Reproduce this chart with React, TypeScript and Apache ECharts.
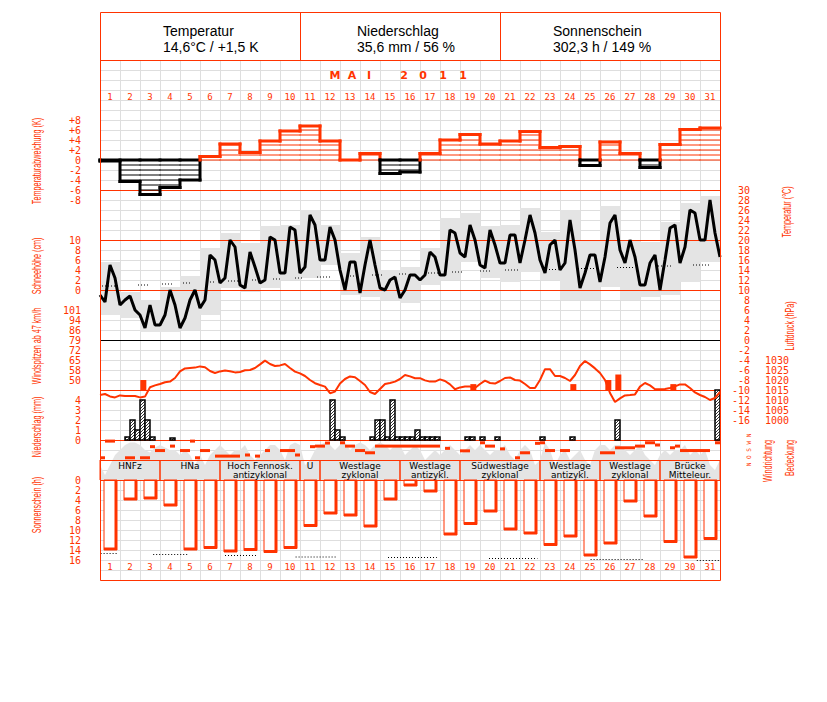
import React, { useEffect, useRef } from 'react';
import * as echarts from 'echarts';

const RED = '#ff3300';
const GRIDC = '#dedede';
const FILL = '#e4e4e4';
const MONO = '"DejaVu Sans Mono", monospace';
const SANS = '"Liberation Sans", Arial, sans-serif';

const dayLabels = ['1','2','3','4','5','6','7','8','9','10','11','12','13','14','15','16','17','18','19','20','21','22','23','24','25','26','27','28','29','30','31'];
const headerTitles = ['Temperatur', 'Niederschlag', 'Sonnenschein'];
const headerValues = ['14,6°C / +1,5 K', '35,6 mm / 56 %', '302,3 h / 149 %'];
const monthTitle = ['M', 'A', 'I', '2', '0', '1', '1'];
const windTickLabels = ['50', '58', '65', '72', '79', '86', '94', '101'];

// daily temperature deviation (K)
const tempDeviation = [-0.2, -4.3, -6.9, -5.5, -4.0, 0.7, 3.2, 1.5, 3.8, 5.8, 6.8, 3.8, 0.0, 1.3, -2.7, -2.4, 1.3, 4.0, 5.1, 3.2, 3.8, 5.7, 2.5, 2.7, -1.1, 3.6, 1.3, -1.5, 3.1, 6.1, 6.4];

// daily extremes (°C)
const tempMax = [15.6, 9.6, 8.0, 10.6, 12.8, 18.4, 21.4, 19.4, 22.8, 23.0, 26.0, 23.0, 17.4, 20.6, 14.0, 14.6, 18.4, 24.4, 25.4, 22.8, 23.0, 26.4, 21.6, 26.0, 20.0, 26.8, 20.0, 19.6, 23.6, 27.4, 28.8];
const tempMin = [5.0, 4.4, 1.6, 1.6, 2.0, 5.0, 10.4, 9.6, 10.4, 12.0, 12.4, 15.0, 9.0, 8.6, 8.0, 7.4, 11.0, 12.0, 15.6, 12.4, 11.6, 13.6, 12.0, 8.0, 8.0, 10.6, 8.0, 8.6, 9.0, 11.6, 15.6];

// 6-hourly temperature (°C), 0h/6h/12h/18h per day + end
const temp6h = [
  9.0, 7.6, 15.0, 12.4,  7.0, 8.0, 8.8, 6.0,  5.0, 2.4, 7.0, 3.0,  3.0, 5.0, 10.0, 7.0,
  2.4, 4.4, 8.0, 10.0,  6.4, 8.0, 17.0, 16.0,  11.4, 12.4, 20.0, 18.6,  11.0, 10.4, 17.6, 14.6,
  11.4, 12.0, 20.6, 20.0,  13.4, 13.4, 22.6, 22.0,  13.4, 14.6, 25.0, 23.0,  16.0, 16.0, 22.6, 20.0,
  14.0, 10.0, 15.6, 15.6,  9.4, 15.0, 20.0, 15.0,  10.4, 10.0, 12.0, 12.6,  8.4, 10.0, 13.0, 13.0,
  12.0, 13.0, 17.6, 16.6,  13.0, 13.0, 22.0, 21.4,  17.4, 16.6, 23.0, 20.0,  15.0, 14.4, 22.0, 19.0,
  15.4, 15.4, 21.0, 21.0,  15.4, 20.0, 25.0, 21.4,  16.0, 13.4, 19.0, 20.0,  14.0, 15.4, 24.0, 18.0,
  10.4, 13.4, 17.0, 17.0,  11.6, 16.6, 23.4, 25.0,  18.0, 15.4, 20.0, 16.6,  11.0, 11.0, 15.4, 17.0,
  10.0, 16.0, 22.4, 23.0,  15.4, 18.6, 26.0, 25.4,  20.0, 20.0, 28.0, 21.4,  16.6,
];

// normal temperature segments (day units, °C)
const tnStart = [0.1, 1.9, 3.1, 4.15, 5.35, 6.4, 7.6, 8.65, 9.75, 10.85, 12.35, 13.6, 14.95, 16.4, 17.6, 19.0, 20.25, 22.15, 23.9, 25.85, 27.9, 29.65];
const tnEnd = [0.9, 2.5, 3.6, 4.5, 5.75, 6.9, 7.85, 9.1, 10.15, 11.5, 12.85, 14.15, 15.4, 16.9, 18.15, 19.5, 21.0, 22.9, 24.75, 26.65, 28.6, 30.5];
const tnValue = [10.8, 11.0, 11.2, 11.4, 11.6, 11.8, 12.0, 12.2, 12.4, 12.6, 12.8, 13.0, 13.2, 13.4, 13.6, 13.8, 14.0, 14.1, 14.3, 14.5, 14.8, 15.0];

// wind gusts >= 47 km/h
const gustDay = [3, 19, 24, 26, 26, 29];
const gustHour = [4, 16, 16, 10, 22, 16];
const gustValue = [50, 47, 47, 50, 54, 47];

// 6-hourly air pressure (hPa) + end
const pressure6h = [
  1012.5, 1013.0, 1011.8, 1011.3, 1012.3, 1012.0, 1012.0, 1012.0, 1011.3, 1011.7,
  1016.4, 1017.3, 1018.0, 1018.9, 1019.2, 1021.0, 1024.3, 1025.8, 1026.0, 1026.2,
  1026.8, 1026.4, 1024.5, 1023.5, 1024.3, 1024.8, 1024.4, 1023.8, 1024.0, 1024.9,
  1025.0, 1026.0, 1027.8, 1029.7, 1028.0, 1027.0, 1027.3, 1028.0, 1026.0, 1024.2,
  1023.3, 1022.0, 1020.0, 1018.4, 1017.5, 1016.7, 1013.4, 1014.2, 1018.3, 1020.5,
  1021.8, 1021.4, 1019.5, 1017.5, 1014.0, 1013.0, 1015.5, 1018.0, 1018.5, 1019.2,
  1020.5, 1022.5, 1021.8, 1020.9, 1020.9, 1019.8, 1019.2, 1019.2, 1020.3, 1019.5,
  1017.8, 1015.4, 1016.3, 1016.7, 1016.7, 1016.0, 1018.0, 1019.7, 1018.5, 1018.2,
  1019.5, 1021.0, 1021.3, 1020.0, 1019.7, 1018.0, 1016.0, 1016.0, 1020.0, 1025.4,
  1025.4, 1022.0, 1022.0, 1021.0, 1019.5, 1022.5, 1027.0, 1029.5, 1027.8, 1025.8,
  1023.5, 1020.0, 1013.5, 1009.0, 1010.8, 1012.3, 1012.5, 1012.8, 1016.7, 1018.5,
  1017.3, 1015.4, 1015.4, 1015.5, 1016.0, 1016.8, 1017.8, 1017.8, 1016.0, 1013.8,
  1012.5, 1011.5, 1010.0, 1011.0, 1014.0,
];

// 6-hourly precipitation (mm)
const precip6h = [
  0, 0, 0, 0,  0, 0.3, 2.0, 1.0,  4.0, 2.0, 0.3, 0,  0, 0, 0.2, 0,  0, 0, 0, 0,  0, 0, 0, 0,
  0, 0, 0, 0,  0, 0, 0, 0,  0, 0, 0, 0,  0, 0, 0, 0,  0, 0, 0, 0,  0, 0, 4.0, 1.0,
  0.3, 0, 0, 0,  0, 0, 0.3, 2.0,  2.0, 0.3, 4.0, 0.3,  0.3, 0.3, 0.3, 1.0,  0.3, 0.3, 0.3, 0.3,
  0, 0, 0, 0,  0, 0.3, 0.3, 0,  0.3, 0, 0, 0.3,  0, 0, 0, 0,  0, 0, 0, 0,  0.3, 0, 0, 0,
  0, 0, 0.3, 0,  0, 0, 0, 0,  0, 0, 0, 2.0,  0, 0, 0, 0,  0, 0, 0, 0,  0, 0, 0, 0,
  0, 0, 0, 0,  0, 0, 0, 5.0,
];

// 6-hourly wind direction (degrees), null = calm
const windDir6h = [
  320, 20, 20, null,  null, 320, 320, null,  320, 320, 120, 190,  190, null, 110, null,
  190, 190, 20, 320,  190, 190, null, 290,  290, 290, 290, 290,  null, 270, null, 290,
  null, 190, null, null,  190, 190, 190, 270,  null, null, 120, 110,  110, 55, null, null,
  50, 110, 110, 190,  190, 230, 230, 110,  110, 110, 110, 110,  110, 110, 110, 110,
  110, 110, 110, 110,  null, 150, null, null,  195, 195, null, null,  50, 110, 110, null,
  160, null, null, 320,  230, 230, null, 60,  50, 190, 190, null,  190, 190, null, null,
  null, null, null, null,  230, 230, 230, 140,  140, 140, 140, 110,  110, 50, 50, 90,
  null, null, 140, 110,  190, 190, 190, 190,  190, 190, null, 50,
];

// 6-hourly cloud cover (octas) + end
const cloud6h = [
  3, 1, 3, 5,  6, 7, 7.5, 7.5,  7, 6, 5.5, 6.5,  7, 6.5, 6, 6,  5, 6, 5, 3,  5, 3, 5, 6,
  7, 6, 5, 6,  6, 7, 5, 4,  5, 6, 7, 7,  6, 4, 7, 7.5,  7, 3, 4, 6,  7, 7.5, 7, 6,
  7, 7.5, 6, 7,  7.5, 7, 6, 7,  7.5, 7, 6, 7,  7, 5, 6, 7,  6, 4, 5, 6,  5, 6, 7, 6,
  5, 6, 7, 6,  7, 6, 5, 6,  6, 7, 5, 4,  6, 7, 6, 3,  4, 7.5, 6, 3,  5, 6, 4, 5,
  6, 4, 3, 6,  7, 7, 6, 7,  7, 6, 5, 6,  7, 5, 4, 3,  5, 6, 5, 6,  6, 7, 5, 6,
  5, 6, 3, 2,  4,
];

// daily sunshine (h)
const sunshine = [14.0, 4.0, 3.8, 5.2, 14.0, 13.7, 14.4, 14.1, 14.5, 13.7, 9.3, 6.8, 7.2, 9.4, 4.0, 1.2, 2.4, 11.0, 8.9, 6.4, 10.0, 10.8, 13.1, 11.4, 15.2, 12.8, 4.4, 7.4, 12.5, 15.6, 11.9];
// possible sunshine segments
const smStart = [0.03, 2.66, 6.25, 9.78, 14.4, 19.45, 24.53, 29.84];
const smEnd = [0.89, 4.38, 7.9, 11.84, 16.84, 21.87, 27.17, 31];
const smValue = [14.7, 14.9, 15.1, 15.4, 15.5, 15.7, 15.9, 16.1];

// weather types
const weatherStart = [1, 4, 7, 11, 12, 16, 19, 23, 26, 29];
const weatherEnd = [3, 6, 10, 11, 15, 18, 22, 25, 28, 31];
const weatherLabel = ['HNFz', 'HNa', 'Hoch Fennosk.\nantizyklonal', 'U', 'Westlage\nzyklonal', 'Westlage\nantizykl.', 'Südwestlage\nzyklonal', 'Westlage\nantizykl.', 'Westlage\nzyklonal', 'Brücke\nMitteleur.'];

const GUST_MIN = 50 - 51 / 7;

function buildOption(): any {
  const gr = (top: number, height: number) => ({ left: 100, width: 620, top, height });
  const hx = (gi: number) => ({ type: 'value', gridIndex: gi, min: 0, max: 31, show: false });
  const hy = (gi: number, min: number, max: number, extra: any = {}) => ({ type: 'value', gridIndex: gi, min, max, show: false, ...extra });
  const lab = (extra: any) => ({
    color: RED, fontFamily: MONO, fontSize: 10, lineHeight: 10, showMinLabel: true, showMaxLabel: true,
    formatter: (v: number) => String(v), ...extra,
  });
  const bare = { axisLine: { show: false }, axisTick: { show: false }, splitLine: { show: false } };
  const dayAxis = (gi: number) => ({
    type: 'category', gridIndex: gi, data: dayLabels, position: 'bottom',
    axisLine: { show: false }, axisTick: { show: false }, splitLine: { show: false },
    axisLabel: { color: RED, fontFamily: MONO, fontSize: 9, margin: 2, interval: 0 },
  });

  const renderTempDev = (params: any, api: any) => {
    const i = api.value(0), v = api.value(1), vn = api.value(2);
    const xa = api.coord([i, 0])[0], xb = api.coord([i + 1, 0])[0];
    const y = (t: number) => api.coord([i, t])[1];
    const col = (t: number) => (t >= 0 ? RED : '#000');
    const ch: any[] = [];
    const line = (x1: number, y1: number, x2: number, y2: number, c: string, w: number) =>
      ch.push({ type: 'line', shape: { x1, y1, x2, y2 }, style: { stroke: c, lineWidth: w, lineCap: 'square' } });
    const s = v >= 0 ? 1 : -1;
    const n = Math.floor(Math.abs(v));
    for (let k = 0; k <= n; k++) line(xa, y(s * k), xb, y(s * k), col(v), k === 0 && v < 0 ? 3 : 1);
    line(xa, y(v), xb, y(v), col(v), 3);
    const vseg = (x: number, a: number, b: number) => {
      if (a * b >= 0) line(x, y(a), x, y(b), col(a + b === 0 ? a : (a + b) / 2), 3);
      else { line(x, y(a), x, y(0), col(a), 3); line(x, y(0), x, y(b), col(b), 3); }
    };
    if (i === 0) vseg(xa, 0, v);
    if (i < 30) vseg(xb, v, vn);
    return { type: 'group', children: ch };
  };

  const renderBox = (params: any, api: any) => {
    const i = api.value(0);
    const [xa, yt] = api.coord([i, api.value(2)]);
    const [xb, yb] = api.coord([i + 1, api.value(1)]);
    return { type: 'rect', shape: { x: xa, y: yt, width: xb - xa, height: yb - yt }, style: { fill: FILL } };
  };

  const renderDots = (params: any, api: any) => {
    const a = api.value(0), b = api.value(1), v = api.value(2);
    const [x1, y1] = api.coord([a, v]);
    const x2 = api.coord([b, v])[0];
    return { type: 'line', shape: { x1, y1, x2, y2: y1 }, style: { stroke: '#000', lineWidth: 1, lineDash: [1, 2] } };
  };

  const renderGust = (params: any, api: any) => {
    const t = api.value(0), v = api.value(1);
    const [xa, yt] = api.coord([t - 0.15, v]);
    const [xb, yb] = api.coord([t + 0.15, GUST_MIN]);
    return { type: 'rect', shape: { x: xa, y: yt, width: xb - xa, height: yb - yt }, style: { fill: RED } };
  };

  const renderPrecip = (params: any, api: any) => {
    const t = api.value(0), v = api.value(1);
    const [xa, yb] = api.coord([t, 0]);
    const [xb, yt] = api.coord([t + 0.25, v]);
    const w = xb - xa, h = yb - yt;
    const ch: any[] = [{ type: 'rect', shape: { x: xa, y: yt, width: w, height: h }, style: { fill: '#fff', stroke: '#000', lineWidth: 1.5 } }];
    for (let c = -w; c < h; c += 3) {
      const u0 = Math.max(0, -c), u1 = Math.min(w, h - c);
      if (u1 > u0) ch.push({ type: 'line', shape: { x1: xa + u0, y1: yb - (u0 + c), x2: xa + u1, y2: yb - (u1 + c) }, style: { stroke: '#000', lineWidth: 0.8 } });
    }
    return { type: 'group', children: ch };
  };

  const renderDir = (params: any, api: any) => {
    const [x, y] = api.coord([api.value(0), api.value(1)]);
    return { type: 'rect', shape: { x: x - 2.5, y: y - 1.5, width: 5, height: 3 }, style: { fill: RED } };
  };

  const renderSun = (params: any, api: any) => {
    const i = api.value(0), h = api.value(1);
    const [cx, yv] = api.coord([i, h]);
    const yb = api.coord([i, 0])[1];
    const xa = cx - 6, xb = cx + 7;
    return {
      type: 'group', children: [
        { type: 'rect', shape: { x: xa, y: yb, width: xb - xa, height: yv - yb }, style: { fill: '#fff', stroke: RED, lineWidth: 1 } },
        { type: 'rect', shape: { x: xb - 2.5, y: yb, width: 2.5, height: yv - yb }, style: { fill: RED } },
        { type: 'rect', shape: { x: xa, y: yv - 2.5, width: xb - xa, height: 2.5 }, style: { fill: RED } },
      ],
    };
  };

  const renderWeather = (params: any, api: any) => {
    const s = api.value(0), e = api.value(1);
    const [xa, ya] = api.coord([s - 1, 1]);
    const [xb, yb] = api.coord([e, 0]);
    return {
      type: 'group', children: [
        { type: 'line', shape: { x1: xa, y1: ya, x2: xa, y2: yb }, style: { stroke: RED, lineWidth: 1 } },
        { type: 'line', shape: { x1: xb, y1: ya, x2: xb, y2: yb }, style: { stroke: RED, lineWidth: 1 } },
        { type: 'text', x: (xa + xb) / 2, y: ya + 1.5, style: { text: weatherLabel[params.dataIndex], fill: '#000', font: '9px "DejaVu Sans"', align: 'center', verticalAlign: 'top', lineHeight: 9 } },
      ],
    };
  };

  const gl = (x1: number, y1: number, x2: number, y2: number, c: string, w = 1, z = 3) =>
    ({ type: 'line', shape: { x1, y1, x2, y2 }, style: { stroke: c, lineWidth: w }, z, silent: true });
  const rt = (text: string, x: number, y: number) => ({
    type: 'text', x, y, rotation: Math.PI / 2, scaleX: 0.6, z: 10, silent: true,
    style: { text, fill: RED, font: `12px ${SANS}`, align: 'center', verticalAlign: 'middle', textAlign: 'center', textVerticalAlign: 'middle' },
  });
  const tx = (text: string, x: number, y: number, font: string, fill = '#000', align = 'left') => ({
    type: 'text', x, y, z: 10, silent: true,
    style: { text, fill, font, align, verticalAlign: 'middle', textAlign: align, textVerticalAlign: 'middle' },
  });

  const headerX = [163, 357, 553];
  const monthX = [335, 352, 369, 404, 423, 443, 463];
  const graphic: any[] = [
    { type: 'rect', shape: { x: 100.5, y: 12.5, width: 620, height: 568 }, style: { fill: 'none', stroke: RED, lineWidth: 1 }, z: 10, silent: true },
    gl(100, 60.5, 720, 60.5, RED, 1, 10),
    gl(300.5, 12, 300.5, 60, RED, 1, 10),
    gl(500.5, 12, 500.5, 60, RED, 1, 10),
    ...[190.5, 240.5, 290.5, 390.5, 440.5, 460.5, 480.5].map((y) => gl(100, y, 720, y, RED)),
    gl(100, 340.5, 720, 340.5, '#000'),
    ...headerTitles.map((t, i) => tx(t, headerX[i], 31, `14px ${SANS}`)),
    ...headerValues.map((t, i) => tx(t, headerX[i], 47, `14px ${SANS}`)),
    ...monthTitle.map((t, i) => tx(t, monthX[i], 75, `bold 11px "DejaVu Sans"`, RED, 'center')),
    rt('Temperaturabweichung (K)', 36.5, 161),
    rt('Schneehöhe (cm)', 36.5, 266),
    rt('Windspitzen ab 47 km/h', 36.5, 346),
    rt('Niederschlag (mm)', 36.5, 427),
    rt('Sonnenschein (h)', 36.5, 505),
    rt('Temperatur (°C)', 787, 212),
    rt('Luftdruck (hPa)', 790, 326),
    rt('Windrichtung', 768, 461),
    rt('Bedeckung', 790, 458),
    {
      type: 'text', x: 748, y: 450, rotation: Math.PI / 2, z: 10, silent: true,
      style: { text: 'N O S W N', fill: RED, font: '6px "DejaVu Sans Mono"', align: 'center', verticalAlign: 'middle', textAlign: 'center', textVerticalAlign: 'middle' },
    },
  ];

  return {
    animation: false,
    backgroundColor: '#fff',
    grid: [
      gr(60, 520), gr(60, 30), gr(110, 100), gr(240, 50), gr(190, 230), gr(310, 80),
      gr(360, 60), gr(390, 50), gr(440, 40), gr(440, 20), gr(480, 80), gr(460, 20),
    ],
    xAxis: [
      { type: 'category', gridIndex: 0, data: dayLabels, axisLine: { show: false }, axisTick: { show: false }, axisLabel: { show: false }, splitLine: { show: true, interval: 0, lineStyle: { color: GRIDC, width: 1 } } },
      dayAxis(1),
      hx(2), hx(3), hx(4), hx(5), hx(6), hx(7), hx(8), hx(9),
      dayAxis(10),
      hx(11),
      { type: 'value', gridIndex: 10, min: 0, max: 31, show: false, position: 'top' },
    ],
    yAxis: [
      { type: 'value', gridIndex: 0, min: 0, max: 52, interval: 1, inverse: true, axisLine: { show: false }, axisTick: { show: false }, axisLabel: { show: false }, splitLine: { show: true, lineStyle: { color: GRIDC, width: 1 } } },
      hy(1, 0, 1),
      { type: 'value', gridIndex: 2, min: -10, max: 10, interval: 2, ...bare, axisLabel: lab({ margin: 19, formatter: (v: number) => (Math.abs(v) === 10 ? '' : v > 0 ? '+' + v : String(v)) }) },
      { type: 'value', gridIndex: 3, min: 0, max: 10, interval: 2, ...bare, axisLabel: lab({ margin: 19 }) },
      { type: 'value', gridIndex: 4, min: -16, max: 30, interval: 2, position: 'right', ...bare, axisLabel: lab({ margin: 30, align: 'right' }) },
      { type: 'value', gridIndex: 5, min: 0, max: 8, interval: 1, ...bare, axisLabel: lab({ margin: 19, formatter: (v: number) => (v >= 1 ? windTickLabels[v - 1] : '') }) },
      { type: 'value', gridIndex: 6, min: 1000, max: 1030, interval: 5, position: 'right', ...bare, axisLabel: lab({ margin: 45, align: 'left' }) },
      { type: 'value', gridIndex: 7, min: 0, max: 5, interval: 1, ...bare, axisLabel: lab({ margin: 19, formatter: (v: number) => (v === 5 ? '' : String(v)) }) },
      hy(8, 0, 8),
      hy(9, 0, 360, { inverse: true }),
      { type: 'value', gridIndex: 10, min: 0, max: 16, interval: 2, inverse: true, ...bare, axisLabel: lab({ margin: 19 }) },
      hy(11, 0, 1),
      hy(5, GUST_MIN, 101),
    ],
    graphic,
    series: [
      { type: 'custom', xAxisIndex: 4, yAxisIndex: 4, z: 2, renderItem: renderBox, data: tempMax.map((mx, i) => [i, tempMin[i], mx]) },
      { type: 'line', xAxisIndex: 8, yAxisIndex: 8, z: 2, symbol: 'none', lineStyle: { width: 0 }, areaStyle: { color: FILL, opacity: 1 }, data: cloud6h.map((c, k) => [k / 4, c]) },
      { type: 'custom', xAxisIndex: 10, yAxisIndex: 10, z: 2, renderItem: renderSun, data: sunshine.map((h, i) => [i, h]) },
      { type: 'custom', xAxisIndex: 4, yAxisIndex: 4, z: 3, renderItem: renderDots, data: tnStart.map((s, i) => [s, tnEnd[i], tnValue[i]]) },
      { type: 'custom', xAxisIndex: 12, yAxisIndex: 10, z: 3, renderItem: renderDots, data: smStart.map((s, i) => [s, smEnd[i], smValue[i]]) },
      { type: 'custom', xAxisIndex: 2, yAxisIndex: 2, z: 4, renderItem: renderTempDev, data: tempDeviation.map((v, i) => [i, v, i < 30 ? tempDeviation[i + 1] : v]) },
      { type: 'custom', xAxisIndex: 7, yAxisIndex: 7, z: 4, renderItem: renderPrecip, data: precip6h.map((p, k) => [k / 4, p]).filter((d) => d[1] > 0) },
      { type: 'custom', xAxisIndex: 5, yAxisIndex: 12, z: 4, renderItem: renderGust, data: gustDay.map((d, i) => [d - 1 + gustHour[i] / 24, gustValue[i]]) },
      { type: 'line', xAxisIndex: 6, yAxisIndex: 6, z: 5, symbol: 'none', lineStyle: { color: RED, width: 2 }, data: pressure6h.map((p, k) => [k / 4, p]) },
      { type: 'line', xAxisIndex: 4, yAxisIndex: 4, z: 5, symbol: 'none', lineStyle: { color: '#000', width: 3 }, data: temp6h.map((t, k) => [k / 4, t]) },
      { type: 'custom', xAxisIndex: 9, yAxisIndex: 9, z: 5, renderItem: renderDir, data: windDir6h.map((d, k) => [k / 4 + 0.125, d]).filter((d) => d[1] !== null) },
      { type: 'custom', xAxisIndex: 11, yAxisIndex: 11, z: 6, renderItem: renderWeather, data: weatherStart.map((s, i) => [s, weatherEnd[i]]) },
    ],
  };
}

export default function App() {
  const ref = useRef<HTMLDivElement>(null);
  useEffect(() => {
    const chart = echarts.init(ref.current as HTMLDivElement, null, { renderer: 'svg' });
    chart.setOption(buildOption());
    return () => chart.dispose();
  }, []);
  return <div ref={ref} style={{ position: 'absolute', left: 0, top: 0, width: 827, height: 702, background: '#fff' }} />;
}
